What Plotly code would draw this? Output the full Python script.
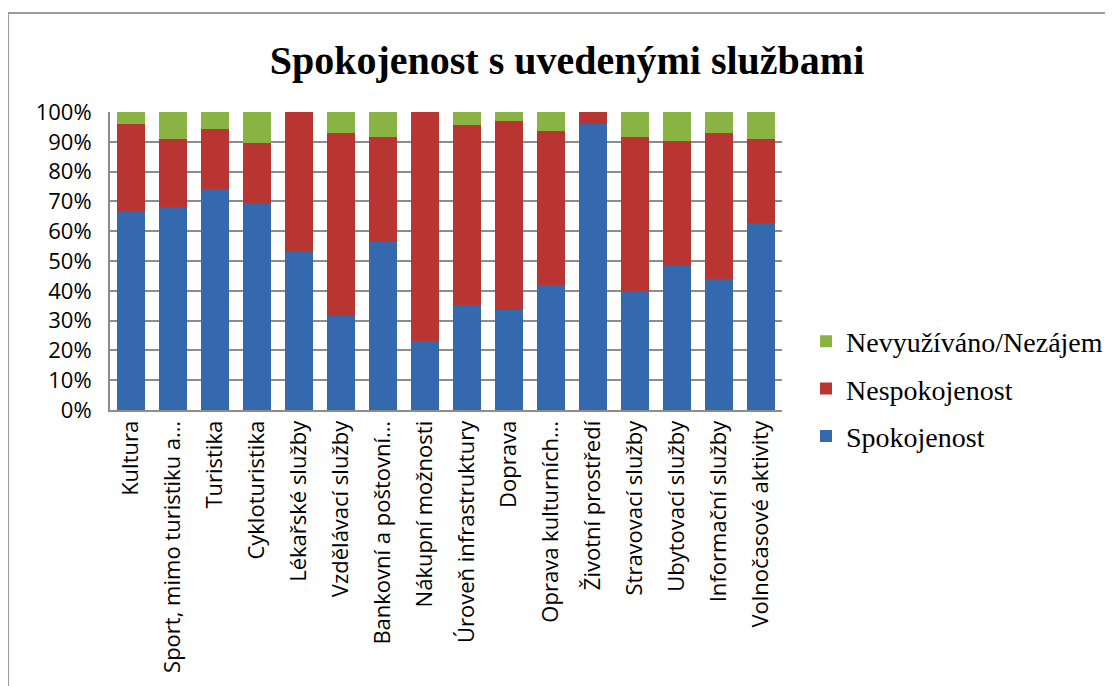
"""
Spokojenost s uvedenymi sluzbami - stacked 100 % bar chart.
"""

import plotly.graph_objects as go

categories = [
    "Kultura",
    "Sport, mimo turistiku a…",
    "Turistika",
    "Cykloturistika",
    "Lékařské služby",
    "Vzdělávací služby",
    "Bankovní a poštovní…",
    "Nákupní možnosti",
    "Úroveň infrastruktury",
    "Doprava",
    "Oprava kulturních…",
    "Životní prostředí",
    "Stravovací služby",
    "Ubytovací služby",
    "Informační služby",
    "Volnočasové aktivity",
]

spokojenost = [66.9, 68.0, 74.0, 69.6, 53.2, 31.7, 56.5, 23.1,
               35.1, 33.4, 42.1, 96.1, 40.1, 48.2, 43.8, 62.6]
nespokojenost = [29.2, 23.1, 20.4, 19.9, 46.8, 61.1, 35.2, 76.9,
                 60.4, 63.7, 51.6, 3.9, 51.6, 42.0, 49.0, 28.5]
nevyuzivano = [3.9, 8.9, 5.6, 10.5, 0.0, 7.2, 8.3, 0.0,
               4.5, 2.9, 6.3, 0.0, 8.3, 9.8, 7.2, 8.9]

y_tickvals = [0, 10, 20, 30, 40, 50, 60, 70, 80, 90, 100]
y_ticktext = ["0%", "10%", "20%", "30%", "40%", "50%",
              "60%", "70%", "80%", "90%", "100%"]

# name, values, colour, legend rank
series = [
    ("Spokojenost", spokojenost, "#3569ad", 3),
    ("Nespokojenost", nespokojenost, "#b93531", 2),
    ("Nevyužíváno/Nezájem", nevyuzivano, "#89b443", 1),
]

# the page body adds an 8 px offset, so margins are pulled in by that much
OFF = 8
L, R, T, B = 110 - OFF, 331 + OFF, 112 - OFF, 276 + OFF
PW, PH = 1113 - L - R, 686 - T - B

fig = go.Figure()
for name, values, color, rank in series:
    fig.add_trace(
        go.Bar(
            x=categories,
            y=values,
            name=name,
            legendgroup=name,
            legendrank=rank,
            marker={"color": color, "line": {"width": 0}},
        )
    )

fig.update_layout(
    width=1113,
    height=686,
    barmode="stack",
    bargap=0.33,
    paper_bgcolor="white",
    plot_bgcolor="white",
    margin={"l": L, "r": R, "t": T, "b": B, "autoexpand": False},
    title={
        "text": "<b>Spokojenost s uvedenými službami</b>",
        "font": {"family": "Liberation Serif", "size": 40, "color": "black"},
        "x": (567 - OFF) / 1113,
        "xref": "container",
        "xanchor": "center",
        "y": 1 - (60 - OFF) / 686,
        "yref": "container",
        "yanchor": "middle",
    },
    legend={
        "x": (806 - OFF - L) / PW,
        "y": (T + PH - (389 - OFF)) / PH,
        "xanchor": "left",
        "yanchor": "middle",
        "traceorder": "grouped",
        "tracegroupgap": 8,
        "font": {"family": "Liberation Serif", "size": 28, "color": "black"},
        "bgcolor": "rgba(0,0,0,0)",
    },
    xaxis={
        "tickangle": -90,
        "tickfont": {"family": "Open Sans", "size": 22, "color": "black"},
        "showline": True,
        "linecolor": "#8c8c8c",
        "linewidth": 2,
        "ticks": "",
        "showgrid": False,
    },
    yaxis={
        "range": [0, 100],
        "tickvals": y_tickvals,
        "ticktext": y_ticktext,
        "tickfont": {"family": "Open Sans", "size": 22, "color": "black"},
        "ticklabelstandoff": 12,
        "showgrid": True,
        "gridcolor": "#8c8c8c",
        "gridwidth": 2,
        "showline": True,
        "linecolor": "#8c8c8c",
        "linewidth": 2,
        "ticks": "",
        "zeroline": False,
    },
)

# outer chart frame
fig.add_shape(
    type="rect",
    xref="paper",
    yref="paper",
    x0=(8 - 110) / PW,
    x1=1.7,
    y0=-1.2,
    y1=(410 - 13) / PH,
    line={"color": "#9a9a9a", "width": 2},
    layer="below",
)

fig.write_html("out.html")
